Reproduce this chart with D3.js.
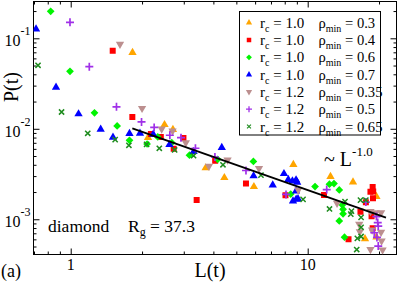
<!DOCTYPE html>
<html><head><meta charset="utf-8">
<script src="https://cdn.jsdelivr.net/npm/d3@7"></script>
<style>
body{margin:0;background:#fff}
svg{display:block}
text{font-family:"Liberation Serif","Times New Roman",serif;fill:#000}
</style>
</head><body>
<svg id="c" width="399" height="282"></svg>
<script>
// ---- data (L(t), P(t)) ----
const rcValues  = ["1.0","1.0","1.0","1.0","1.2","1.2","1.2"];
const rhoValues = ["0.3","0.4","0.6","0.7","0.35","0.5","0.65"];

const orangeTri = [[1.823,0.0697],[2.488,0.0111],[2.70,0.0098],[2.12,0.0080],[3.71,0.00369],[4.45,0.00288],[5.93,0.00229],[8.70,0.00403],[12.48,0.00296],[15.53,0.00258],[19.5,0.00178],[17.45,0.000608],[19.5,0.000637]];
const redSq = [[1.504,0.0730],[1.82,0.0135],[2.18,0.00876],[2.40,0.00812],[2.99,0.00791],[2.72,0.00603],[4.07,0.00444],[3.40,0.00163],[5.49,0.00249],[8.06,0.00184],[11.72,0.00185],[18.8,0.00227],[18.9,0.00203],[18.4,0.00202],[18.86,0.00171],[17.6,0.00154],[16.7,0.00121],[18.6,0.00108],[18.8,0.000796],[14.87,0.000601]];
const greenDia = [[0.823,0.1987],[0.993,0.0432],[1.26,0.0150],[1.57,0.01074],[1.77,0.00746],[2.33,0.00812],[2.10,0.00679],[2.67,0.00702],[3.17,0.0051],[4.17,0.0046],[5.90,0.00435],[8.48,0.00190],[10.74,0.00230],[12.35,0.00244],[12.91,0.00248],[13.59,0.00211],[14.0,0.00144],[14.1,0.00129],[14.1,0.00115],[13.59,0.000958],[14.3,0.000633]];
const blueTri = [[0.714,0.1267],[0.867,0.0287],[1.079,0.01458],[1.338,0.00988],[1.508,0.00804],[1.770,0.00886],[1.96,0.00892],[2.23,0.0087],[2.61,0.00667],[3.30,0.00558],[4.34,0.00621],[5.91,0.00301],[7.12,0.00239],[7.94,0.00319],[8.28,0.00275],[8.62,0.00265],[8.93,0.00272],[9.03,0.00256],[8.93,0.00205],[8.67,0.00159],[8.94,0.00166],[9.1,0.00168]];
const rosyDown = [[1.614,0.0859],[2.0,0.01684],[2.42,0.00995],[2.69,0.00946],[3.06,0.00702],[3.83,0.00386],[4.59,0.00452],[6.23,0.00364],[9.13,0.00211],[13.3,0.00151],[18.4,0.00122],[19.35,0.00118],[20.4,0.00118],[16.5,0.000881],[18.7,0.000762],[16.6,0.000729],[20.4,0.00072],[20.5,0.000576],[18.4,0.000465],[20.7,0.000458]];
const purplePlus = [[0.993,0.1502],[1.198,0.0486],[1.56,0.0175],[1.99,0.0119],[2.25,0.01034],[2.62,0.00848],[2.92,0.00797],[3.36,0.00609],[4.06,0.00488],[5.49,0.00346],[8.10,0.00188],[12.03,0.00213],[17.6,0.00155],[19.5,0.00107],[19.75,0.00092],[19.85,0.00084],[19.1,0.00071],[19.6,0.00063],[19.85,0.000505]];
const darkGreenX = [[0.728,0.0503],[0.915,0.01533],[1.18,0.00892],[1.54,0.0076],[1.76,0.00657],[2.09,0.00673],[2.365,0.00609],[2.745,0.00583],[3.30,0.00504],[4.39,0.0040],[6.35,0.00307],[9.56,0.00166],[12.36,0.00130],[14.37,0.00157],[15.3,0.00123],[15.2,0.00114],[16.7,0.00163],[17.6,0.00163],[16.8,0.00105],[16.8,0.000816],[16.2,0.000614],[16.8,0.000645],[16.1,0.000463]];
const fitLine = [[1.82,0.01013],[21.4,0.001041]];

const xDomain = [0.6966, 23.70];
const yDomain = [4.08e-4, 0.2551];
const xMajor = [1, 10];
const xMinor = [0.7,0.8,0.9,2,3,4,5,6,7,8,9,20];
const yMajorExp = [-3, -2, -1];
const yMinor = [5e-4,6e-4,7e-4,8e-4,9e-4,2e-3,3e-3,4e-3,5e-3,6e-3,7e-3,8e-3,9e-3,2e-2,3e-2,4e-2,5e-2,6e-2,7e-2,8e-2,9e-2,0.2];

// ---- drawing ----
const svg = d3.select("#c");
const L = 33.5, R = 396.5, T = 1.5, B = 254.5;
const x = d3.scaleLog().domain(xDomain).range([L, R]);
const y = d3.scaleLog().domain(yDomain).range([B, T]);

const seriesStyle = [
  {data: orangeTri,  color: "#ffa500", shape: "tri"},
  {data: redSq,      color: "#ff0000", shape: "sq"},
  {data: greenDia,   color: "#00f400", shape: "dia"},
  {data: blueTri,    color: "#0000ff", shape: "tri"},
  {data: rosyDown,   color: "#bc8f8f", shape: "down"},
  {data: purplePlus, color: "#a030e8", shape: "plus"},
  {data: darkGreenX, color: "#1e8c1e", shape: "x"}
];

function drawMarker(g, shape, color) {
  if (shape === "tri") {
    g.append("path").attr("d", d3.symbol(d3.symbolTriangle, 30)()).attr("fill", color);
  } else if (shape === "down") {
    g.append("path").attr("d", d3.symbol(d3.symbolTriangle, 30)()).attr("transform","rotate(180)").attr("fill", color);
  } else if (shape === "sq") {
    g.append("path").attr("d", d3.symbol(d3.symbolSquare, 36)()).attr("fill", color);
  } else if (shape === "dia") {
    g.append("path").attr("d", d3.symbol(d3.symbolSquare, 30)()).attr("transform","rotate(45)").attr("fill", color);
  } else if (shape === "plus") {
    g.append("path").attr("d", "M-4,0H4M0,-4V4").attr("stroke", color).attr("stroke-width", 1.7).attr("fill","none");
  } else if (shape === "x") {
    g.append("path").attr("d", "M-2.6,-2.6L2.6,2.6M-2.6,2.6L2.6,-2.6").attr("stroke", color).attr("stroke-width", 1.5).attr("fill","none");
  }
}

// axes (ticks inward on all four sides)
function addAxis(axisFn, vals, size, transform) {
  const g = svg.append("g").attr("transform", transform)
    .call(axisFn.tickValues(vals).tickSize(-size).tickFormat(""));
  g.select(".domain").remove();
  g.selectAll(".tick line").attr("stroke", "#000");
}
const yMajorVals = yMajorExp.map(e => Math.pow(10, e));
addAxis(d3.axisBottom(x), xMajor, 6, `translate(0,${B})`);
addAxis(d3.axisBottom(x), xMinor, 3, `translate(0,${B})`);
addAxis(d3.axisTop(x), xMajor, 6, `translate(0,${T})`);
addAxis(d3.axisTop(x), xMinor, 3, `translate(0,${T})`);
addAxis(d3.axisLeft(y), yMajorVals, 6, `translate(${L},0)`);
addAxis(d3.axisLeft(y), yMinor, 3, `translate(${L},0)`);
addAxis(d3.axisRight(y), yMajorVals, 6, `translate(${R},0)`);
addAxis(d3.axisRight(y), yMinor, 3, `translate(${R},0)`);

svg.append("rect").attr("x", L).attr("y", T).attr("width", R - L).attr("height", B - T)
  .attr("fill", "none").attr("stroke", "#000").attr("stroke-width", 1);

// tick labels
xMajor.forEach(v => {
  svg.append("text").attr("x", x(v)).attr("y", 270).attr("text-anchor", "middle")
    .attr("font-size", 16).text(String(v));
});
yMajorExp.forEach(e => {
  const yy = y(Math.pow(10, e));
  svg.append("text").attr("x", 20.5).attr("y", yy + 8).attr("text-anchor", "end").attr("font-size", 16).text("10");
  svg.append("text").attr("x", 20.5).attr("y", yy - 3).attr("font-size", 12).text(String(e));
});

// points
svg.append("clipPath").attr("id", "pc").append("rect")
  .attr("x", L).attr("y", T).attr("width", R - L).attr("height", B - T);
const pts = svg.append("g").attr("clip-path", "url(#pc)");
seriesStyle.forEach(s => {
  s.data.forEach(d => {
    const g = pts.append("g").attr("transform", `translate(${x(d[0])},${y(d[1])})`);
    drawMarker(g, s.shape, s.color);
  });
});

// fit line
svg.append("path").datum(fitLine)
  .attr("d", d3.line().x(d => x(d[0])).y(d => y(d[1])))
  .attr("stroke", "#000").attr("stroke-width", 1.8).attr("fill", "none");

// legend
svg.append("rect").attr("x", 239.5).attr("y", 11.5).attr("width", 141).attr("height", 123.5)
  .attr("fill", "#fff").attr("stroke", "#000").attr("stroke-width", 1);
seriesStyle.forEach((s, i) => {
  const cy = 22.7 + i * 17.3;
  const g = svg.append("g").attr("transform", `translate(249,${cy}) scale(0.75)`);
  drawMarker(g, s.shape, s.color);
  const t1 = svg.append("text").attr("x", 260).attr("y", cy + 5).attr("font-size", 15);
  t1.append("tspan").text("r");
  t1.append("tspan").attr("font-size", 10).attr("dy", 4).text("c");
  t1.append("tspan").attr("dy", -4).text(" = " + rcValues[i]);
  const t2 = svg.append("text").attr("x", 318.5).attr("y", cy + 5).attr("font-size", 14.6);
  t2.append("tspan").text("ρ");
  t2.append("tspan").attr("font-size", 10).attr("dy", 4).text("min");
  t2.append("tspan").attr("dy", -4).text(" = " + rhoValues[i]);
});

// annotations
const ann = svg.append("text").attr("x", 324).attr("y", 166).attr("font-size", 20);
ann.append("tspan").text("~ L");
ann.append("tspan").attr("font-size", 13).attr("dy", -10).text("-1.0");

svg.append("text").attr("x", 48).attr("y", 232).attr("font-size", 17.5).text("diamond");
const rg = svg.append("text").attr("x", 128).attr("y", 232).attr("font-size", 17.5);
rg.append("tspan").text("R");
rg.append("tspan").attr("font-size", 12).attr("dy", 4).text("g");
rg.append("tspan").attr("dy", -4).text(" = 37.3");

svg.append("text").attr("x", 210).attr("y", 277).attr("text-anchor", "middle").attr("font-size", 20).text("L(t)");
svg.append("text").attr("transform", "translate(18,87) rotate(-90)").attr("text-anchor", "middle").attr("font-size", 20).text("P(t)");
svg.append("text").attr("x", 1).attr("y", 277).attr("font-size", 18).text("(a)");
</script>
</body></html>
